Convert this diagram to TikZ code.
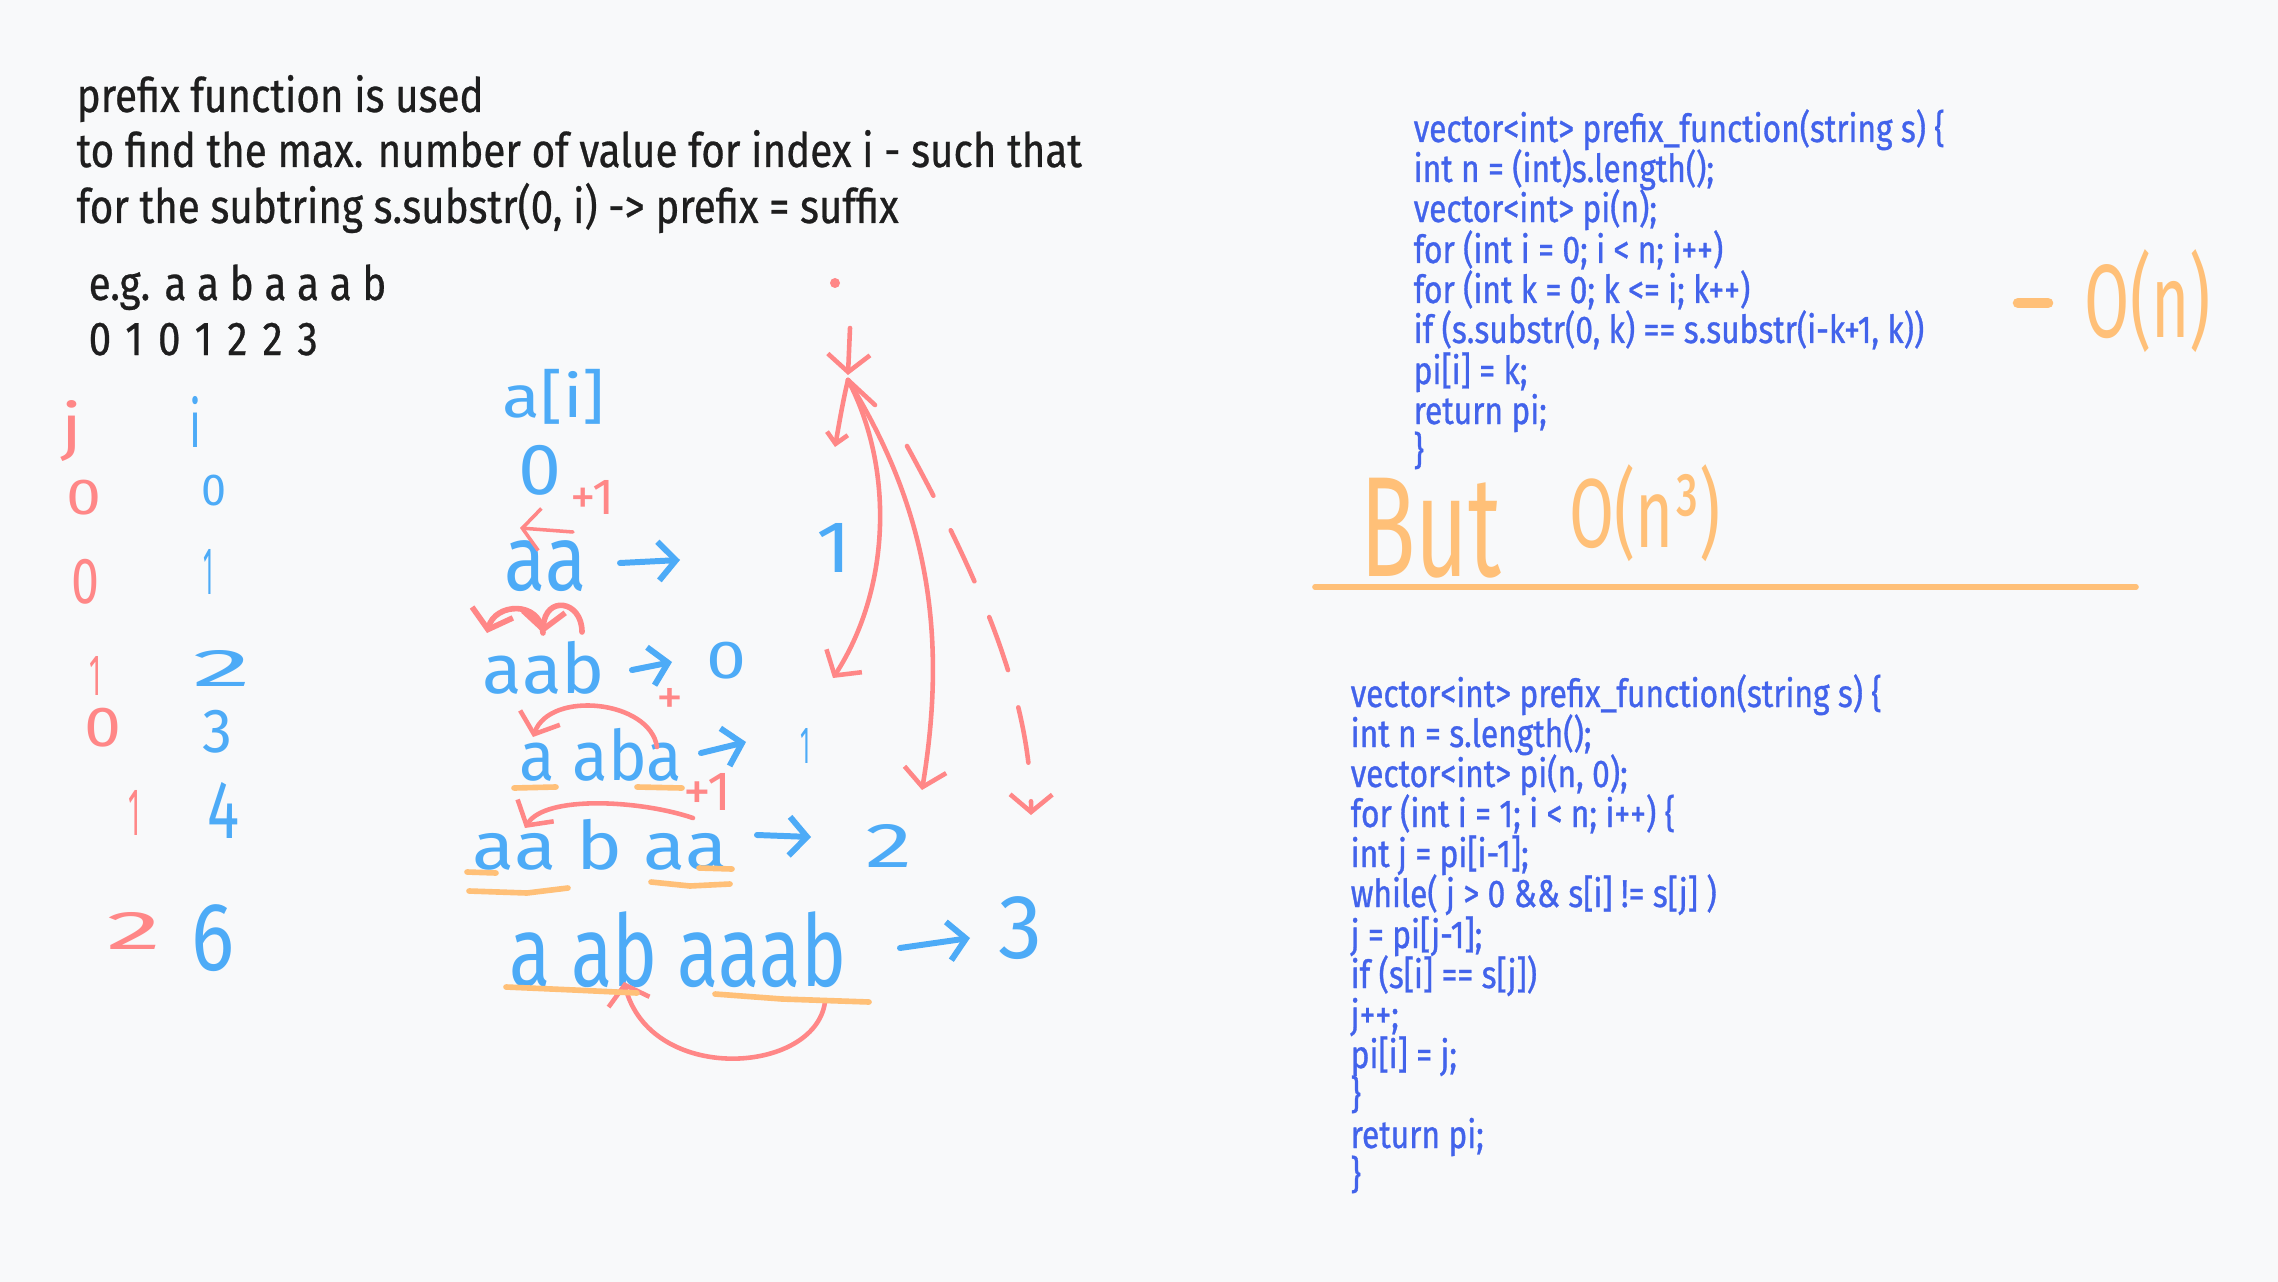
\documentclass[tikz,border=0pt]{standalone}
\usepackage{fontspec}
\usepackage{graphicx}
\setmainfont{Fira Sans}
\newfontfamily\hand[FakeStretch=0.85,FakeBold=0.6]{Fira Sans}
\newfontfamily\codef[FakeStretch=0.82,FakeBold=0.8]{Fira Sans}
\newfontfamily\handw{Fira Sans}
\usetikzlibrary{arrows.meta}
\definecolor{bgc}{HTML}{F8F9FA}
\definecolor{ink}{HTML}{1E1E1E}
\definecolor{codeb}{HTML}{4263EB}
\definecolor{hblue}{HTML}{4DABF7}
\definecolor{hred}{HTML}{FF8787}
\definecolor{horange}{HTML}{FFC078}
\newcommand\fitbox[3]{\resizebox*{#1cm}{#2cm}{#3}}
\tikzset{
  txt/.style={inner sep=0pt, anchor=base west, text=ink, font=\hand\fontsize{13.5}{16}\selectfont},
  code/.style={inner sep=0pt, anchor=base west, text=codeb, font=\codef\fontsize{11}{13}\selectfont},
  hwb/.style={inner sep=0pt, text=hblue, font=\handw},
  hwr/.style={inner sep=0pt, text=hred, font=\handw},
  hwo/.style={inner sep=0pt, text=horange, font=\handw},
  bstroke/.style={draw=hblue, line width=1.7pt, line cap=round, line join=round},
  rstroke/.style={draw=hred, line width=1.3pt, line cap=round, line join=round},
  ostroke/.style={draw=horange, line width=1.6pt, line cap=round, line join=round},
  btip/.style={-{Straight Barb[length=5pt,width=11pt]}},
  rtip/.style={-{Straight Barb[length=5pt,width=12pt]}},
}
\begin{document}
\begin{tikzpicture}[x=0.01cm,y=-0.01cm]
\fill[bgc] (0,0) rectangle (2278,1282);
\useasboundingbox (0,0) rectangle (2278,1282);

% heading
\node[txt] (h1) at (76,112) {prefix function is used};
\node[txt] (h2) at (76,167) {to find the max. number of value for index i - such that};
\node[txt] (h3) at (76,223) {for the subtring s.substr(0, i) -> prefix = suffix};
\node[txt] (eg) at (88,300) {e.g. a a b a a a b};
\node[txt] (egn) at (88,355) {\addfontfeature{LetterSpace=32}0101223};

% code block 1
\node[code] (a1) at (1413,142) {vector<int> prefix\_function(string s) \{};
\node[code] (a2) at (1413,182) {int n = (int)s.length();};
\node[code] (a3) at (1413,222) {vector<int> pi(n);};
\node[code] (a4) at (1413,263) {for (int i = 0; i < n; i++)};
\node[code] (a5) at (1413,303) {for (int k = 0; k <= i; k++)};
\node[code] (a6) at (1413,343) {if (s.substr(0, k) == s.substr(i-k+1, k))};
\node[code] (a7) at (1413,384) {pi[i] = k;};
\node[code] (a8) at (1413,424) {return pi;};
\node[code] (a9) at (1413,464) {\}};

% code block 2
\node[code] (b1) at (1350,707) {vector<int> prefix\_function(string s) \{};
\node[code] (b2) at (1350,747) {int n = s.length();};
\node[code] (b3) at (1350,787) {vector<int> pi(n, 0);};
\node[code] (b4) at (1350,827) {for (int i = 1; i < n; i++) \{};
\node[code] (b5) at (1350,867) {int j = pi[i-1];};
\node[code] (b6) at (1350,907) {while( j > 0 \&\& s[i] != s[j] )};
\node[code] (b7) at (1350,948) {j = pi[j-1];};
\node[code] (b8) at (1350,988) {if (s[i] == s[j])};
\node[code] (b9) at (1350,1028) {j++;};
\node[code] (b10) at (1350,1068) {pi[i] = j;};
\node[code] (b11) at (1350,1108) {\}};
\node[code] (b12) at (1350,1148) {return pi;};
\node[code] (b13) at (1350,1188) {\}};

% orange annotations
\coordinate (dash1) at (2018,303); \coordinate (dash2) at (2048,303);
\draw[ostroke,line width=3pt] (dash1) -- (dash2);
\node[hwo] (on) at (2148,301) {\fitbox{1.26}{1.03}{O(n)}};
\node[hwo] (but) at (1431,528) {\fitbox{1.41}{1.00}{But}};
\node[hwo] (on3) at (1645,513) {\fitbox{1.51}{0.97}{O(n³)}};
\coordinate (hl1) at (1315,587);
\coordinate (hl2) at (2136,587);
\draw[ostroke] (hl1) -- (hl2);

% left columns
\node[hwr] (jj) at (72,431) {\fitbox{0.21}{0.61}{j}};
\node[hwb] (ii) at (196,422) {\fitbox{0.12}{0.51}{i}};
\node[hwr] (j0) at (84,498) {\fitbox{0.35}{0.35}{0}};
\node[hwr] (j1) at (86,582) {\fitbox{0.28}{0.45}{0}};
\node[hwr] (j2) at (96,676) {\fitbox{0.12}{0.39}{1}};
\node[hwr] (j3) at (103,728) {\fitbox{0.37}{0.39}{0}};
\node[hwr] (j4) at (135,813) {\fitbox{0.12}{0.45}{1}};
\node[hwr] (j6) at (134,931) {\fitbox{0.55}{0.37}{2}};
\node[hwb] (i0) at (214,491) {\fitbox{0.25}{0.31}{0}};
\node[hwb] (i1) at (209,572) {\fitbox{0.10}{0.45}{1}};
\node[hwb] (i2) at (222,668) {\fitbox{0.59}{0.36}{2}};
\node[hwb] (i3) at (218,732) {\fitbox{0.30}{0.43}{3}};
\node[hwb] (i4) at (224,810) {\fitbox{0.32}{0.56}{4}};
\node[hwb] (i6) at (213,938) {\fitbox{0.43}{0.67}{6}};

% middle column
\node[hwb] (ai) at (554,397) {\fitbox{1.02}{0.55}{a[i]}};
\node[hwb] (z0) at (540,470) {\fitbox{0.43}{0.50}{0}};
\node[hwr] (p1a) at (593,497) {\fitbox{0.44}{0.34}{+1}};
\node[hwb] (w2) at (546,566) {\fitbox{0.82}{0.51}{aa}};
\node[hwb] (r2) at (834,548) {\fitbox{0.35}{0.49}{1}};
\node[hwb] (w3) at (544,668) {\fitbox{1.22}{0.53}{aab}};
\node[hwb] (r3) at (727,661) {\fitbox{0.40}{0.37}{0}};
\node[hwb] (w4) at (601,755) {\fitbox{1.62}{0.53}{a aba}};
\node[hwr] (p4) at (670,701) {\fitbox{0.27}{0.26}{+}};
\node[hwb] (r4) at (805,746) {\fitbox{0.10}{0.35}{1}};
\node[hwr] (p5) at (708,792) {\fitbox{0.48}{0.37}{+1}};
\node[hwb] (w5) at (600,845) {\fitbox{2.55}{0.51}{aa b aa}};
\node[hwb] (r5) at (889,846) {\fitbox{0.47}{0.43}{2}};
\node[hwb] (w7) at (678,950) {\fitbox{3.36}{0.76}{a ab aaab}};
\node[hwb] (r7) at (1021,928) {\fitbox{0.44}{0.63}{3}};

% blue arrows
\coordinate (ba2s) at (620,563); \coordinate (ba2e) at (680,560);
\coordinate (ba3s) at (632,670); \coordinate (ba3e) at (672,662);
\coordinate (ba4s) at (701,753); \coordinate (ba4e) at (746,742);
\coordinate (ba5s) at (757,835); \coordinate (ba5e) at (811,837);
\coordinate (ba7s) at (900,948); \coordinate (ba7e) at (970,938);
\draw[bstroke,btip] (ba2s) -- (ba2e);
\draw[bstroke,btip] (ba3s) -- (ba3e);
\draw[bstroke,btip] (ba4s) -- (ba4e);
\draw[bstroke,btip] (ba5s) -- (ba5e);
\draw[bstroke,btip] (ba7s) -- (ba7e);

% red marks in middle
\coordinate (ra2s) at (573,532); \coordinate (ra2e) at (520,528);
\draw[rstroke,line width=1pt,rtip] (ra2s) -- (ra2e);
\coordinate (c3a) at (543,633); \coordinate (c3b) at (487,633); \coordinate (c3c) at (582,632);
\draw[rstroke,line width=1.6pt,rtip] (c3a) .. controls (540,600) and (495,603) .. (c3b);
\draw[rstroke,line width=1.6pt,rtip] (c3c) .. controls (582,600) and (545,595) .. (c3a);
\coordinate (c4s) at (657,747); \coordinate (c4e) at (533,737);
\draw[rstroke,rtip] (c4s) .. controls (650,700) and (550,690) .. (c4e);
\coordinate (c5s) at (693,818); \coordinate (c5e) at (525,828);
\draw[rstroke,rtip] (c5s) .. controls (640,800) and (545,795) .. (c5e);
\coordinate (c7s) at (825,1002); \coordinate (c7e) at (624,982);
\draw[rstroke,rtip] (c7s) .. controls (815,1075) and (650,1085) .. (c7e);

% orange underlines
\draw[ostroke] (514,788) -- (556,787);
\draw[ostroke] (637,787) -- (682,788);
\draw[ostroke] (467,872) -- (496,873);
\draw[ostroke] (469,891) -- (527,893) -- (568,888);
\draw[ostroke] (699,868) -- (732,869);
\draw[ostroke] (651,882) -- (690,886) -- (730,884);
\draw[ostroke] (506,987) -- (574,990) -- (637,993);
\draw[ostroke] (715,994) -- (782,999) -- (869,1002);

% red arrows at right
\fill[hred] (835,283) circle (5);
\coordinate (dtop) at (850,328); \coordinate (apex) at (848,375);
\draw[rstroke,rtip] (dtop) -- (apex);
\coordinate (ap) at (848,380);
\coordinate (sh) at (835,447);
\draw[rstroke,-{Straight Barb[length=3pt,width=6pt]}] (ap) .. controls (843,400) and (838,430) .. (sh);
\coordinate (cv1) at (833,678);
\draw[rstroke,rtip] (ap) .. controls (895,470) and (890,590) .. (cv1);
\coordinate (cv2) at (922,790);
\draw[rstroke,rtip] (ap) .. controls (935,520) and (945,650) .. (cv2);
\coordinate (aps) at (875,405);
\draw[rstroke] (ap) -- (aps);
\coordinate (ds) at (907,446); \coordinate (de) at (1031,815);
\draw[rstroke,rtip,dash pattern=on 16pt off 11pt] (ds) .. controls (980,580) and (1032,700) .. (de);
\end{tikzpicture}
\end{document}
